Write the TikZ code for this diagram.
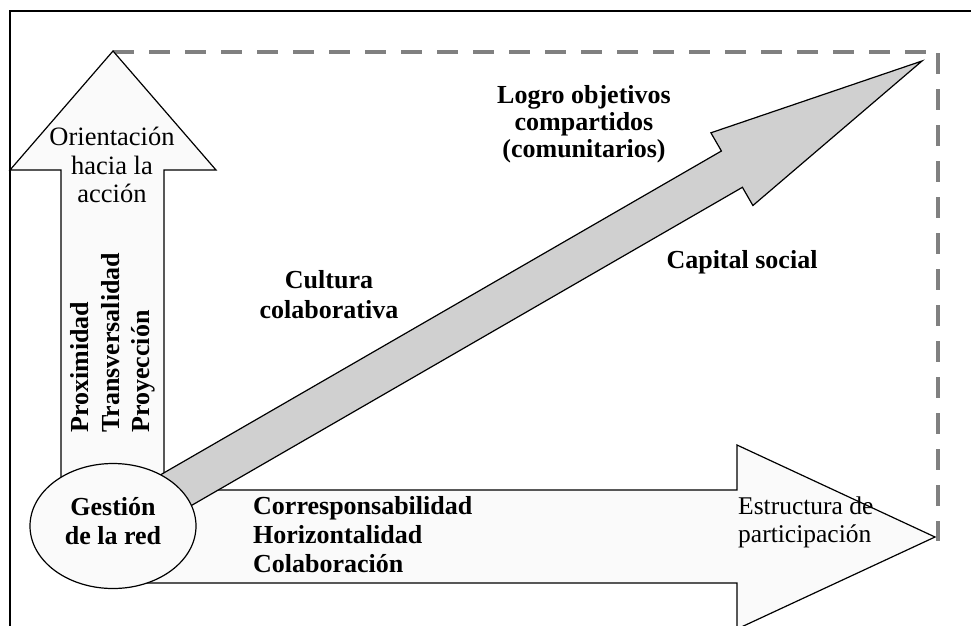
\documentclass[tikz,border=0pt]{standalone}
\usepackage{fontspec}
\setmainfont{Liberation Serif}
\usetikzlibrary{shapes.geometric}
\definecolor{lightfill}{HTML}{FAFAFA}
\definecolor{diagfill}{HTML}{D0D0D0}
\definecolor{dashgray}{HTML}{808080}
\tikzset{
  blockarrow/.style={draw=black, line width=1.2pt, line join=miter},
  lbl/.style={inner sep=0pt, font=\fontsize{26.5}{28.5}\selectfont, align=center},
  blbl/.style={inner sep=0pt, font=\fontsize{26}{29}\selectfont\bfseries, align=center},
  dashline/.style={draw=dashgray, line width=4pt, dash pattern=on 21pt off 15pt}
}
\begin{document}
\begin{tikzpicture}[x=1pt,y=-1pt]
\useasboundingbox (0,0) rectangle (971,625);
\fill[white] (0,0) rectangle (971,625);
% outer frame (left and top visible)
\draw[line width=1.5pt] (10,630) -- (10,11) -- (980,11);
% dashed frame
\draw[dashline] (113,52) -- (930,52);
\draw[dashline] (938,53) -- (938,541);
% up arrow
\draw[blockarrow, fill=lightfill] (61,526) -- (61,170) -- (10,170) -- (113,51) -- (216,170) -- (164,170) -- (164,526) -- cycle;
% right arrow
\draw[blockarrow, fill=lightfill] (113,490) -- (737,490) -- (737,445) -- (935,537) -- (737,629) -- (737,583) -- (113,583) -- cycle;
% diagonal arrow
\draw[blockarrow, fill=diagfill] (123.5,544.7) -- (742.4,187.3) -- (752.9,205.5) -- (922,61) -- (710.9,132.8) -- (721.4,151.0) -- (102.5,508.3) -- cycle;
% ellipse
\node[ellipse, draw, line width=1.2pt, fill=lightfill, minimum width=166pt, minimum height=125pt, inner sep=0pt] (gestion) at (113,526) {};
\node[blbl] (gestiontxt) at (113,521) {Gestión\\de la red};
% texts
\node[lbl] (orient) at (112,165) {Orientación\\hacia la\\acción};
\node[blbl, rotate=90, anchor=west, align=left, font=\fontsize{26}{30.5}\selectfont\bfseries] (prox) at (113,433) {Proximidad\\Transversalidad\\Proyección};
\node[blbl, anchor=west, align=left] (corr) at (253,535) {Corresponsabilidad\\Horizontalidad\\Colaboración};
\node[lbl, font=\fontsize{25.5}{28}\selectfont, anchor=west, align=left] (estr) at (738,522) {Estructura de\\participación};
\node[blbl, font=\fontsize{26}{30}\selectfont\bfseries] (cult) at (329,295) {Cultura\\colaborativa};
\node[blbl, font=\fontsize{26}{27}\selectfont\bfseries] (logro) at (584,124) {Logro objetivos\\compartidos\\(comunitarios)};
\node[blbl] (capital) at (742,262) {Capital social};
\end{tikzpicture}
\end{document}
